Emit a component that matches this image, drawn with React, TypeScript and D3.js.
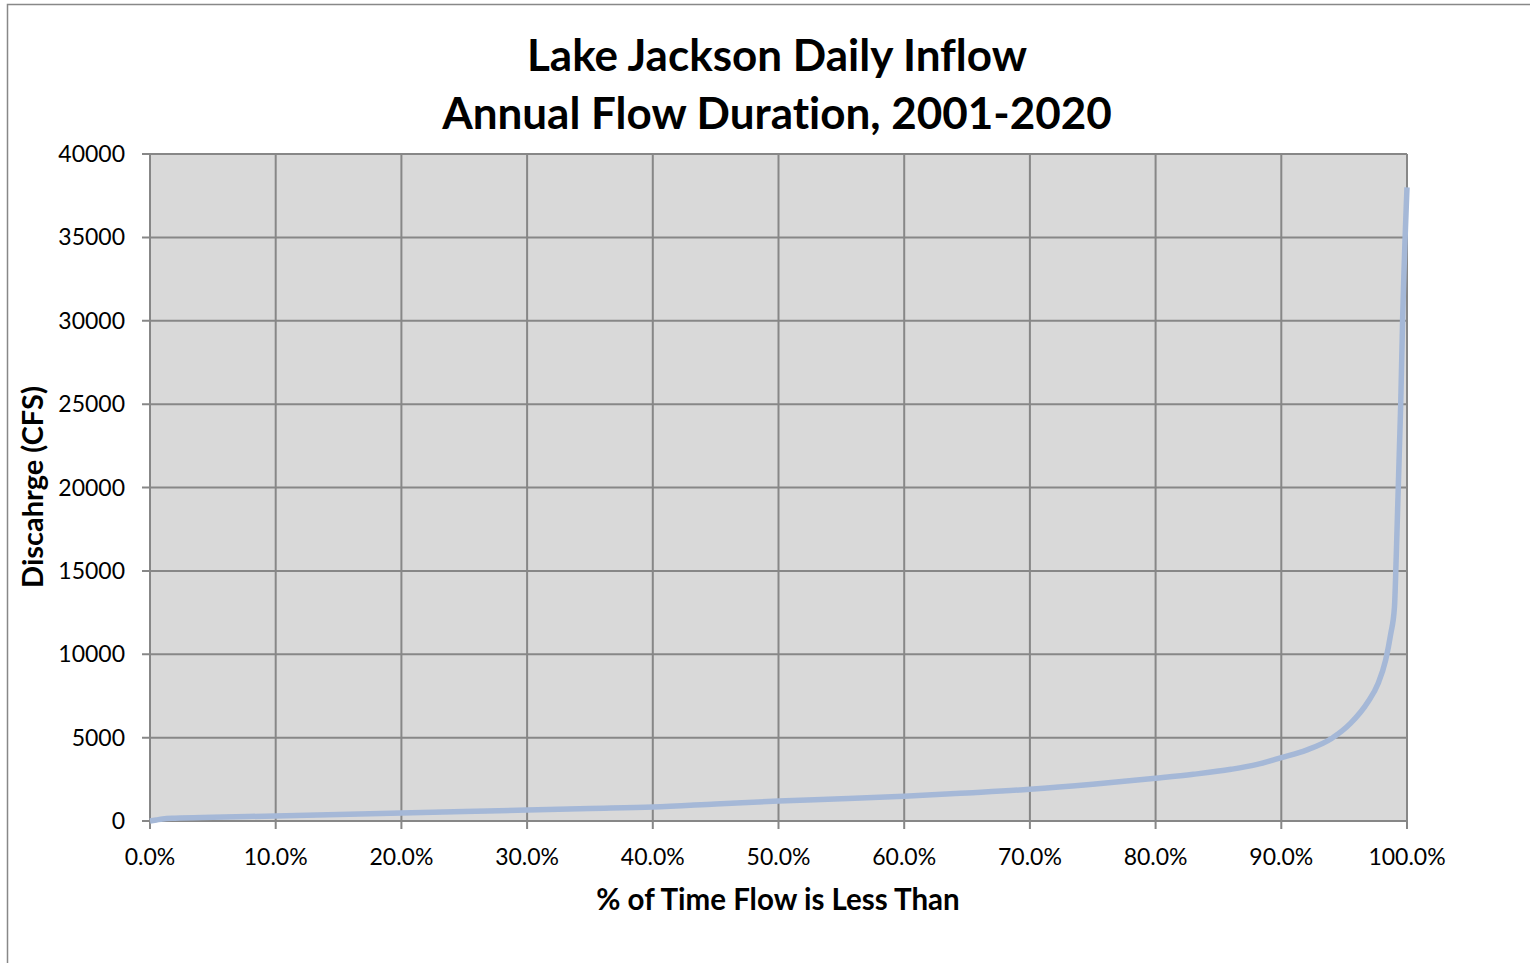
import { useEffect, useRef } from 'react';
import * as d3 from 'd3';

// percent of time flow is less than
const pctTime = [0, 0.5, 1, 2, 5, 10, 15, 20, 25, 30, 35, 40, 45, 50, 55, 60, 65, 70, 75, 80, 83, 86, 88, 90, 92, 94, 95.5, 96.9, 97.7, 98.3, 98.7, 99.0, 99.15, 99.5, 99.65, 100];
// discharge (cfs)
const discharge = [0, 60, 120, 170, 230, 300, 390, 480, 570, 660, 750, 840, 1020, 1200, 1330, 1480, 1680, 1900, 2200, 2560, 2800, 3100, 3380, 3800, 4250, 4950, 5850, 7150, 8250, 9650, 11200, 12800, 16000, 25000, 30000, 38000];

const yTicks = [0, 5000, 10000, 15000, 20000, 25000, 30000, 35000, 40000];
const xTicks = [0, 10, 20, 30, 40, 50, 60, 70, 80, 90, 100];
const titleLines = ['Lake Jackson Daily Inflow', 'Annual Flow Duration, 2001-2020'];

export default function App() {
  const svgRef = useRef<SVGSVGElement>(null);

  useEffect(() => {
    if (!svgRef.current) return;
    const svg = d3.select(svgRef.current);
    svg.selectAll('*').remove();

    const font = 'Lato, Carlito, Calibri, sans-serif';
    const left = 150, right = 1407, top = 154, bottom = 821;

    // outer chart frame
    svg.append('rect')
      .attr('x', 7.5).attr('y', 4.5)
      .attr('width', 1540).attr('height', 980)
      .attr('fill', '#fff').attr('stroke', '#888').attr('stroke-width', 1.5);

    const x = d3.scaleLinear().domain([0, 100]).range([left, right]);
    const y = d3.scaleLinear().domain([0, 40000]).range([bottom, top]);

    svg.append('rect')
      .attr('x', left).attr('y', top)
      .attr('width', right - left).attr('height', bottom - top)
      .attr('fill', '#d9d9d9');

    // gridlines
    svg.append('g').selectAll('line.h')
      .data(yTicks)
      .enter().append('line')
      .attr('x1', left - 8).attr('x2', right)
      .attr('y1', d => y(d)).attr('y2', d => y(d))
      .attr('stroke', '#878787').attr('stroke-width', 2);

    svg.append('g').selectAll('line.v')
      .data(xTicks)
      .enter().append('line')
      .attr('x1', d => x(d)).attr('x2', d => x(d))
      .attr('y1', top).attr('y2', bottom + 8)
      .attr('stroke', '#878787').attr('stroke-width', 2);

    // tick labels
    svg.append('g').selectAll('text')
      .data(yTicks)
      .enter().append('text')
      .attr('x', 125).attr('y', d => y(d))
      .attr('dy', '0.35em')
      .attr('text-anchor', 'end')
      .attr('font-family', font).attr('font-size', 23)
      .attr('fill', '#000')
      .text(d => String(d));

    svg.append('g').selectAll('text')
      .data(xTicks)
      .enter().append('text')
      .attr('x', d => x(d)).attr('y', 857)
      .attr('dy', '0.35em')
      .attr('text-anchor', 'middle')
      .attr('font-family', font).attr('font-size', 23)
      .attr('fill', '#000')
      .text(d => d.toFixed(1) + '%');

    // flow duration curve
    const data = pctTime.map((p, i) => ({ p, q: discharge[i] }));
    const line = d3.line<{ p: number; q: number }>()
      .x(d => x(d.p))
      .y(d => y(d.q))
      .curve(d3.curveMonotoneX);

    svg.append('path')
      .datum(data)
      .attr('d', line)
      .attr('fill', 'none')
      .attr('stroke', '#a5b8d7')
      .attr('stroke-width', 5.5)
      .attr('stroke-linejoin', 'round');

    // titles
    svg.append('g').selectAll('text')
      .data(titleLines)
      .enter().append('text')
      .attr('x', 777).attr('y', (d, i) => 56 + i * 58)
      .attr('dy', '0.35em')
      .attr('text-anchor', 'middle')
      .attr('font-family', font).attr('font-weight', 'bold').attr('font-size', 44)
      .style('font-variant-ligatures', 'none')
      .text(d => d);

    svg.append('text')
      .attr('x', 778).attr('y', 900)
      .attr('dy', '0.35em')
      .attr('text-anchor', 'middle')
      .attr('font-family', font).attr('font-weight', 'bold').attr('font-size', 29.5)
      .text('% of Time Flow is Less Than');

    svg.append('text')
      .attr('transform', 'translate(33,487) rotate(-90)')
      .attr('dy', '0.35em')
      .attr('text-anchor', 'middle')
      .attr('font-family', font).attr('font-weight', 'bold').attr('font-size', 29)
      .text('Discahrge (CFS)');
  }, []);

  return (
    <div style={{ position: 'absolute', left: 0, top: 0 }}>
      <svg ref={svgRef} width={1530} height={963} style={{ display: 'block' }} />
    </div>
  );
}
